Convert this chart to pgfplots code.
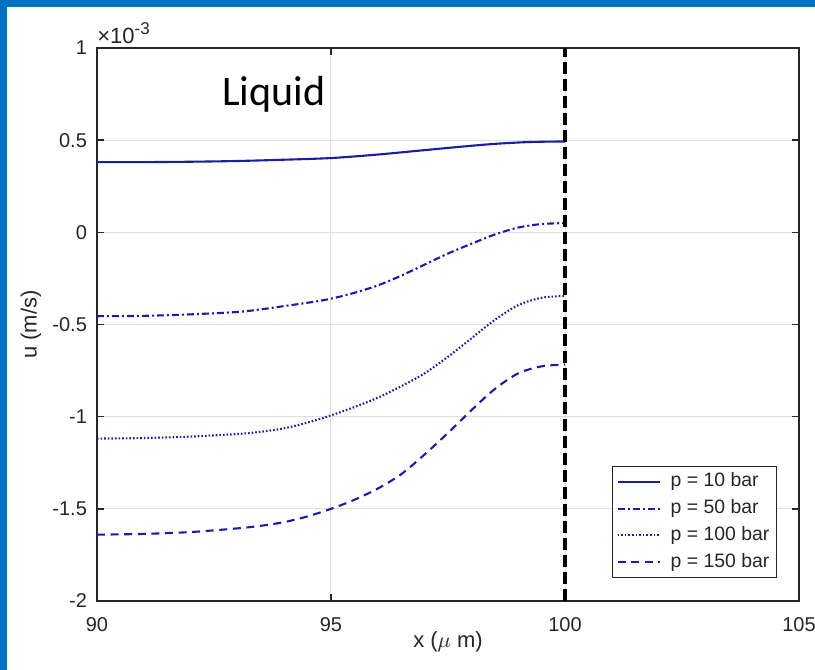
\documentclass[border=0pt]{standalone}
\usepackage{pgfplots}
\pgfplotsset{compat=1.18}
\usepackage{fontspec}
\setmainfont{Liberation Sans}
\newfontfamily\calibri{Carlito}
\definecolor{frameblue}{RGB}{0,112,192}
\definecolor{axgray}{RGB}{38,38,38}
\definecolor{gridgray}{RGB}{222,222,222}
\definecolor{curveblue}{RGB}{28,28,165}
\pgfplotstableread{
x y
90 0.381
91 0.381
92 0.383
93 0.387
94 0.394
95 0.403
96 0.422
97 0.446
97.8 0.465
98.5 0.480
99.25 0.490
100 0.493
}\pten
\pgfplotstableread{
x y
90 -0.455
91 -0.453
92 -0.445
93 -0.432
93.5 -0.418
94 -0.400
94.5 -0.382
95 -0.360
95.5 -0.328
96 -0.288
96.5 -0.235
97 -0.175
97.5 -0.115
98 -0.062
98.5 -0.012
99 0.026
99.5 0.045
100 0.050
}\pfifty
\pgfplotstableread{
x y
90 -1.119
91 -1.116
92 -1.108
93 -1.094
93.5 -1.082
94 -1.063
94.5 -1.032
95 -0.993
95.5 -0.948
96 -0.897
96.5 -0.835
97 -0.765
97.5 -0.675
98 -0.575
98.5 -0.475
99 -0.395
99.5 -0.355
100 -0.345
}\phundred
\pgfplotstableread{
x y
90 -1.640
91 -1.636
92 -1.626
93 -1.606
93.5 -1.592
94 -1.572
94.5 -1.541
95 -1.500
95.5 -1.451
96 -1.390
96.5 -1.312
97 -1.205
97.5 -1.088
98 -0.965
98.5 -0.850
99 -0.765
99.5 -0.727
100 -0.717
}\ponefifty
\begin{document}
\begin{tikzpicture}
\fill[frameblue] (-48.5pt,-34.5pt) rectangle (359pt,300.5pt);
\fill[white] (-45pt,-34.5pt) rectangle (359pt,297pt);
\path[use as bounding box] (-48.5pt,-34.5pt) rectangle (359pt,300.5pt);
\begin{axis}[
  at={(0pt,0pt)}, anchor=south west,
  scale only axis, width=351pt, height=276.5pt,
  xmin=90, xmax=105, ymin=-2, ymax=1,
  xtick={90,95,100,105},
  ytick={-2,-1.5,-1,-0.5,0,0.5,1},
  yticklabels={-2,-1.5,-1,-0.5,0,0.5,1},
  xticklabels={90,95,100,105},
  grid=major,
  major grid style={gridgray, line width=0.5pt},
  axis line style={axgray, line width=0.75pt},
  tick style={axgray, line width=0.75pt},
  tick align=inside, major tick length=3.5pt,
  ticklabel style={font=\fontsize{10}{12}\selectfont, text=axgray},
  xticklabel style={yshift=-4.5pt},
  yticklabel style={xshift=-1.5pt},
  xlabel={x ($\mu$ m)},
  ylabel={u (m/s)},
  label style={font=\fontsize{11}{13}\selectfont, text=axgray},
  xlabel style={at={(axis description cs:0.5,0)}, anchor=center, yshift=-20.5pt},
  ylabel style={at={(axis description cs:0,0.5)}, anchor=center, rotate=0, yshift=33pt},
  legend style={at={(rel axis cs:1,0)}, anchor=south east, xshift=-11pt, yshift=11.5pt,
    draw=axgray, line width=0.6pt, fill=white,
    font=\fontsize{9.7}{11}\selectfont, text=axgray,
    inner xsep=2pt, inner ysep=1.5pt, row sep=1.2pt,
    nodes={inner sep=1.5pt, text height=7pt, text depth=2.2pt},
    /tikz/every odd column/.append style={column sep=3.5pt}},
  legend cell align=left,
  legend image code/.code={\draw[#1] (0pt,0pt) -- (21pt,0pt);},
  clip=false,
]
\addplot[curveblue, line width=1.05pt, smooth] table[x=x,y=y]{\pten};
\addlegendentry{p = 10 bar}
\addplot[curveblue, line width=1.05pt, smooth, dash pattern=on 3.5pt off 1.5pt on 1pt off 1.5pt] table[x=x,y=y]{\pfifty};
\addlegendentry{p = 50 bar}
\addplot[curveblue, line width=1.05pt, smooth, dash pattern=on 0.8pt off 1pt] table[x=x,y=y]{\phundred};
\addlegendentry{p = 100 bar}
\addplot[curveblue, line width=1.05pt, smooth, dash pattern=on 4pt off 2.8pt] table[x=x,y=y]{\ponefifty};
\addlegendentry{p = 150 bar}
\addplot[black, line width=1.6pt, dash pattern=on 6pt off 2.5pt, forget plot] coordinates {(100,-2) (100,1)};
\node[anchor=base west, inner sep=0pt, font=\calibri\fontsize{21}{24}\selectfont] at (axis cs:92.67,0.689) {Liquid};
\node[anchor=base west, inner sep=0pt, font=\fontsize{11}{13}\selectfont, text=axgray] at ([yshift=2.5pt]rel axis cs:0,1) {×10\raisebox{4pt}{\fontsize{8.5}{9}\selectfont -3}};
\end{axis}
\end{tikzpicture}
\end{document}
